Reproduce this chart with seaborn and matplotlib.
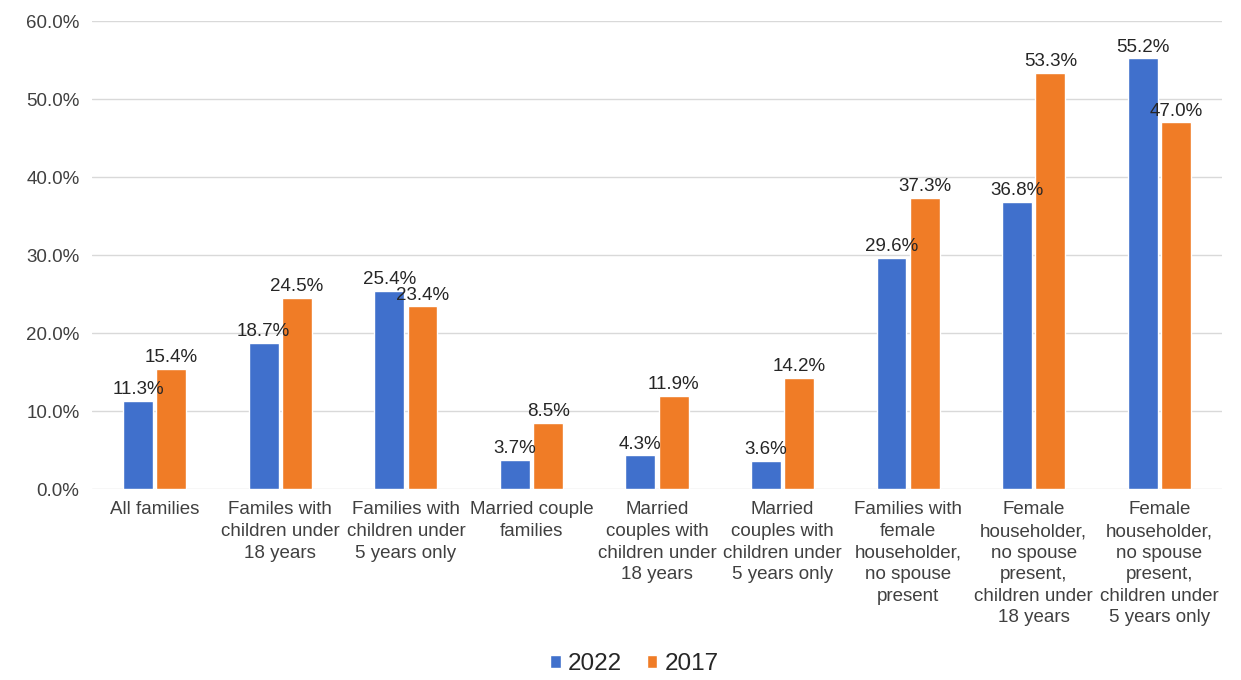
import pandas as pd
import matplotlib
matplotlib.use('Agg')
import matplotlib.pyplot as plt
import seaborn as sns

categories = [
    "All families",
    "Familes with\nchildren under\n18 years",
    "Families with\nchildren under\n5 years only",
    "Married couple\nfamilies",
    "Married\ncouples with\nchildren under\n18 years",
    "Married\ncouples with\nchildren under\n5 years only",
    "Families with\nfemale\nhouseholder,\nno spouse\npresent",
    "Female\nhouseholder,\nno spouse\npresent,\nchildren under\n18 years",
    "Female\nhouseholder,\nno spouse\npresent,\nchildren under\n5 years only",
]
values_2022 = [11.3, 18.7, 25.4, 3.7, 4.3, 3.6, 29.6, 36.8, 55.2]
values_2017 = [15.4, 24.5, 23.4, 8.5, 11.9, 14.2, 37.3, 53.3, 47.0]
years = ["2022", "2017"]
colors = ["#4070CC", "#F07C26"]

df = pd.DataFrame({
    "category": categories * 2,
    "year": [years[0]] * len(categories) + [years[1]] * len(categories),
    "value": values_2022 + values_2017,
})

sns.set_style("white")
plt.rcParams['font.family'] = ['Liberation Sans', 'DejaVu Sans']

fig = plt.figure(figsize=(12.41, 6.80), dpi=100)
ax = fig.add_axes([92 / 1241, 1 - 489 / 680, 1130 / 1241, 468 / 680])

sns.barplot(data=df, x="category", y="value", hue="year", palette=colors,
            saturation=1, width=0.53, gap=0.1, ax=ax, legend=True)

for container in ax.containers:
    ax.bar_label(container, fmt="%.1f%%", padding=2, fontsize=13.5, color="#262626")

ax.set_ylim(0, 60)
ax.set_xlim(-0.5, len(categories) - 0.5)
ax.set_yticks(range(0, 61, 10))
ax.set_yticklabels([f"{v:.1f}%" for v in range(0, 61, 10)])
ax.yaxis.grid(True, color="#d9d9d9", linewidth=1)
ax.set_axisbelow(True)
ax.set_xlabel("")
ax.set_ylabel("")
for s in ax.spines.values():
    s.set_visible(False)
ax.tick_params(axis="both", length=0, labelsize=13.5, colors="#404040", pad=9)
for lbl in ax.get_xticklabels():
    lbl.set_linespacing(1.35)
    lbl.set_verticalalignment("top")

ax.legend(loc="center", bbox_to_anchor=(0.48, -0.375), ncol=2, frameon=False,
          fontsize=17.5, handlelength=0.45, handleheight=0.45, handletextpad=0.3,
          columnspacing=1.0, labelcolor="#262626")

fig.savefig("out.png", dpi=100, facecolor="white")
